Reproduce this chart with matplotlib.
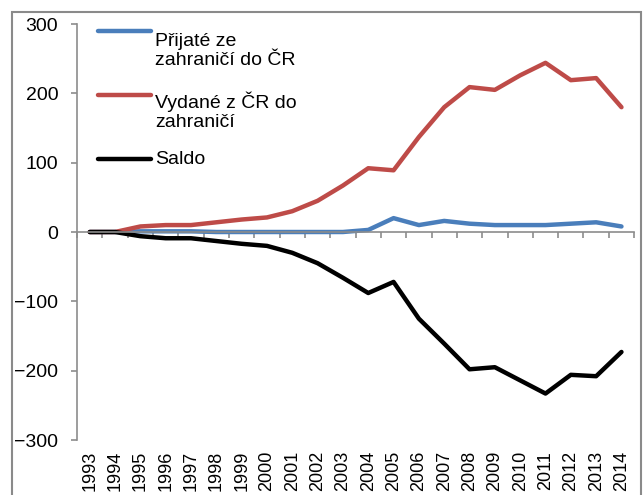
import matplotlib
matplotlib.use("Agg")
import matplotlib.pyplot as plt
from matplotlib.patches import Rectangle

# data
years = [str(y) for y in range(1993, 2015)]
prijate = [0, 0, 1, 1, 1, 0, 0, 0, 0, 0, 0, 3, 20, 10, 16, 12, 10, 10, 10, 12, 14, 8]
vydane = [0, 0, 8, 10, 10, 14, 18, 21, 30, 45, 67, 92, 89, 137, 180, 209, 205, 226, 244, 219, 222, 180]
saldo = [0, 0, -6, -9, -9, -13, -17, -20, -30, -45, -66, -88, -72, -125, -161, -198, -195, -214, -233, -206, -208, -173]

labels = ["Přijaté ze\nzahraničí do ČR", "Vydané z ČR do\nzahraničí", "Saldo"]
colors = ["#4A7EBB", "#BE4B48", "#000000"]

plt.rcParams['font.family'] = ['Liberation Sans', 'DejaVu Sans']
fs = 14
axis_gray = "#8C8C8C"

fig = plt.figure(figsize=(6.43, 4.95), dpi=100)
ax = fig.add_axes([0.1198, 0.1111, 0.8664, 0.8404])

x = list(range(len(years)))
for series, c in zip([prijate, vydane, saldo], colors):
    ax.plot(x, series, color=c, lw=3.2, solid_capstyle='round', solid_joinstyle='round')

ax.set_xlim(-0.5, len(years) - 0.5)
ax.set_ylim(-300, 300)
ax.set_yticks([-300, -200, -100, 0, 100, 200, 300])

for s in ['top', 'right']:
    ax.spines[s].set_visible(False)
ax.spines['left'].set_color(axis_gray)
ax.spines['left'].set_linewidth(1.2)
ax.tick_params(axis='y', length=4.5, width=1.2, color=axis_gray, pad=9, labelsize=fs)

# zero line with category tick marks (bottom spine moved to y=0)
ax.spines['bottom'].set_position(('data', 0))
ax.spines['bottom'].set_color(axis_gray)
ax.spines['bottom'].set_linewidth(1.2)
ax.set_xticks([i - 0.5 for i in range(len(years) + 1)])
ax.tick_params(axis='x', length=4, width=1.2, color=axis_gray, labelbottom=False)

# year labels under the plot area
yl = ax.secondary_xaxis('bottom')
for s in yl.spines.values():
    s.set_visible(False)
yl.set_xticks(x)
yl.set_xticklabels(years, rotation=90, fontsize=13)
yl.tick_params(axis='x', length=0, pad=8)

# legend drawn by hand so the line sits on the first text line
leg_line_y = [0.983, 0.829, 0.675]
leg_text_y = [0.901, 0.752, 0.663]
for lab, c, ly, ty in zip(labels, colors, leg_line_y, leg_text_y):
    ax.plot([0.038, 0.133], [ly, ly], color=c, lw=3.2, transform=ax.transAxes,
            solid_capstyle='round')
    ax.text(0.140, ty, lab, transform=ax.transAxes, fontsize=fs, va='baseline',
            ha='left', linespacing=1.2)

# outer chart frame
fig.patches.append(Rectangle((12 / 643, -0.1), 629 / 643, 1.1 - 12 / 495,
                             transform=fig.transFigure, fill=False,
                             edgecolor="#8A8A8A", lw=1.5))

fig.savefig("out.png", dpi=100)
